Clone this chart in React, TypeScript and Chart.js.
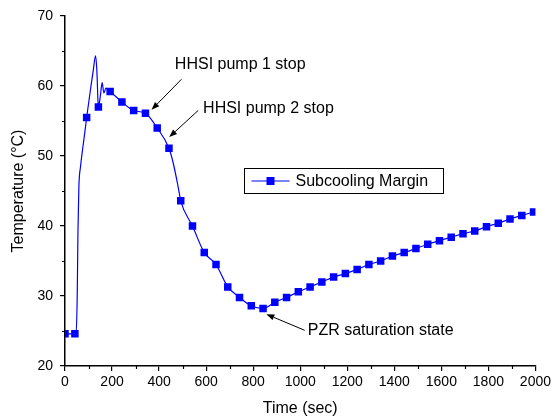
import React, { useEffect, useRef } from "react";
import { Chart, registerables } from "chart.js";

Chart.register(...registerables);

// Marker points (sec, °C)
const MARKER_TIME = [
  0, 42, 92, 142, 192, 242, 292, 342, 392, 442, 492, 542, 592, 642, 692, 742, 792, 842, 892, 942,
  992, 1042, 1092, 1142, 1192, 1242, 1292, 1342, 1392, 1442, 1492, 1542, 1592, 1642, 1692, 1742,
  1792, 1842, 1892, 1942, 1992,
];
const MARKER_TEMP = [
  24.6, 24.6, 55.5, 57.0, 59.2, 57.7, 56.5, 56.1, 54.0, 51.1, 43.6, 40.0, 36.2, 34.5, 31.3, 29.8,
  28.6, 28.2, 29.1, 29.8, 30.6, 31.3, 32.0, 32.7, 33.2, 33.8, 34.5, 35.0, 35.7, 36.2, 36.8, 37.4,
  37.9, 38.4, 38.9, 39.3, 39.9, 40.4, 41.0, 41.5, 42.0,
];
// Extra curve points between markers (sec, °C)
const CURVE_TIME = [47, 52, 55, 59, 66, 75, 84, 110, 120, 130, 136, 140, 150, 158, 165, 174, 183, 460, 481];
const CURVE_TEMP = [24.6, 30, 39, 45.6, 48.5, 51.0, 53.3, 59.9, 62.2, 64.3, 61.8, 58.0, 58.5, 60.5, 59.0, 59.7, 59.4, 49.0, 45.6];

const X_TICKS = [0, 200, 400, 600, 800, 1000, 1200, 1400, 1600, 1800, 2000];
const Y_TICKS = [20, 30, 40, 50, 60, 70];

const SERIES_NAME = "Subcooling Margin";
const X_TITLE = "Time (sec)";
const Y_TITLE = "Temperature (°C)";

// Annotations
const ANNOTATION_TEXT = ["HHSI pump 1 stop", "HHSI pump 2 stop", "PZR saturation state"];
const ANNOTATION_TEXT_X = [467, 587, 1032];
const ANNOTATION_TEXT_Y = [62.4, 56.2, 24.5];
const ARROW_TAIL_X = [495, 566, 1019];
const ARROW_TAIL_Y = [60.96, 56.5, 25.1];
const ARROW_HEAD_X = [368, 443, 856];
const ARROW_HEAD_Y = [56.6, 52.7, 27.4];

const LEGEND_X = 760;
const LEGEND_Y = 48.24;

const BLUE = "#0000ff";
const FONT = "'Liberation Sans', Arial, sans-serif";

export default function App() {
  const ref = useRef<HTMLCanvasElement>(null);

  useEffect(() => {
    const canvas = ref.current;
    if (!canvas) return;

    const curve = [
      ...MARKER_TIME.map((t, i) => ({ x: t, y: MARKER_TEMP[i] })),
      ...CURVE_TIME.map((t, i) => ({ x: t, y: CURVE_TEMP[i] })),
    ].sort((a, b) => a.x - b.x);
    const markers = MARKER_TIME.map((t, i) => ({ x: t, y: MARKER_TEMP[i] }));

    const extras = {
      id: "extras",
      afterDraw(chart: any) {
        const { ctx, scales } = chart;
        const xs = scales.x;
        const ys = scales.y;
        const area = chart.chartArea;
        ctx.save();
        // minor ticks
        ctx.strokeStyle = "#000";
        ctx.lineWidth = 1.2;
        ctx.beginPath();
        for (let i = 0; i < X_TICKS.length - 1; i++) {
          const v = (X_TICKS[i] + X_TICKS[i + 1]) / 2;
          const px = Math.round(xs.getPixelForValue(v)) + 0.5;
          ctx.moveTo(px, area.bottom);
          ctx.lineTo(px, area.bottom + 3);
        }
        for (let i = 0; i < Y_TICKS.length - 1; i++) {
          const v = (Y_TICKS[i] + Y_TICKS[i + 1]) / 2;
          const py = Math.round(ys.getPixelForValue(v)) + 0.5;
          ctx.moveTo(area.left, py);
          ctx.lineTo(area.left - 3, py);
        }
        ctx.stroke();

        // axis titles
        ctx.fillStyle = "#000";
        ctx.font = `16px ${FONT}`;
        ctx.textAlign = "center";
        ctx.textBaseline = "middle";
        ctx.fillText(X_TITLE, (area.left + area.right) / 2, 409);
        ctx.save();
        ctx.translate(19, (area.top + area.bottom) / 2);
        ctx.rotate(-Math.PI / 2);
        ctx.fillText(Y_TITLE, 0, 0);
        ctx.restore();

        // annotations
        ctx.textAlign = "left";
        ctx.textBaseline = "alphabetic";
        for (let i = 0; i < ANNOTATION_TEXT.length; i++) {
          ctx.fillText(
            ANNOTATION_TEXT[i],
            xs.getPixelForValue(ANNOTATION_TEXT_X[i]),
            ys.getPixelForValue(ANNOTATION_TEXT_Y[i])
          );
          const tx = xs.getPixelForValue(ARROW_TAIL_X[i]);
          const ty = ys.getPixelForValue(ARROW_TAIL_Y[i]);
          const hx = xs.getPixelForValue(ARROW_HEAD_X[i]);
          const hy = ys.getPixelForValue(ARROW_HEAD_Y[i]);
          const ang = Math.atan2(hy - ty, hx - tx);
          const L = 8;
          const W = 3;
          const bx = hx - L * Math.cos(ang);
          const by = hy - L * Math.sin(ang);
          ctx.beginPath();
          ctx.lineWidth = 1;
          ctx.strokeStyle = "#000";
          ctx.moveTo(tx, ty);
          ctx.lineTo(bx, by);
          ctx.stroke();
          ctx.beginPath();
          ctx.moveTo(hx, hy);
          ctx.lineTo(bx + W * Math.sin(ang), by - W * Math.cos(ang));
          ctx.lineTo(bx - W * Math.sin(ang), by + W * Math.cos(ang));
          ctx.closePath();
          ctx.fill();
        }

        // legend
        const lx = Math.round(xs.getPixelForValue(LEGEND_X)) + 0.5;
        const ly = Math.round(ys.getPixelForValue(LEGEND_Y)) + 0.5;
        const lw = 199;
        const lh = 25;
        ctx.fillStyle = "#fff";
        ctx.fillRect(lx, ly, lw, lh);
        ctx.strokeStyle = "#000";
        ctx.lineWidth = 1;
        ctx.strokeRect(lx, ly, lw, lh);
        const cy = ly + lh / 2;
        ctx.strokeStyle = BLUE;
        ctx.lineWidth = 1.2;
        ctx.beginPath();
        ctx.moveTo(lx + 7, cy);
        ctx.lineTo(lx + 45, cy);
        ctx.stroke();
        ctx.fillStyle = BLUE;
        ctx.fillRect(lx + 22, cy - 4, 8, 8);
        ctx.fillStyle = "#000";
        ctx.textBaseline = "middle";
        ctx.fillText(SERIES_NAME, lx + 51, cy + 1);
        ctx.restore();
      },
    };

    const chart = new Chart(canvas, {
      type: "scatter",
      data: {
        datasets: [
          {
            label: SERIES_NAME,
            data: curve,
            showLine: true,
            borderColor: BLUE,
            borderWidth: 1.2,
            pointRadius: 0,
            cubicInterpolationMode: "monotone",
          },
          {
            label: SERIES_NAME + " markers",
            data: markers,
            showLine: false,
            pointStyle: "rect",
            pointRadius: 5.3,
            backgroundColor: BLUE,
            borderColor: BLUE,
            borderWidth: 0,
          },
        ],
      },
      options: {
        responsive: false,
        animation: false,
        layout: { padding: { top: 16, right: 18, left: 0, bottom: 0 } },
        plugins: { legend: { display: false }, tooltip: { enabled: false } },
        scales: {
          x: {
            type: "linear",
            min: 0,
            max: 2000,
            afterFit: (s: any) => {
              s.height = 54;
            },
            afterBuildTicks: (s: any) => {
              s.ticks = X_TICKS.map((v) => ({ value: v }));
            },
            ticks: {
              color: "#000",
              font: { family: FONT, size: 14 },
              padding: 3,
              maxRotation: 0,
              autoSkip: false,
              callback: (v: any) => String(v),
            },
            grid: {
              drawOnChartArea: false,
              drawTicks: true,
              tickLength: 5,
              color: "#000",
              lineWidth: 1.2,
            },
            border: { display: true, color: "#000", width: 1.5 },
          },
          y: {
            type: "linear",
            min: 20,
            max: 70,
            afterFit: (s: any) => {
              s.width = 65;
            },
            afterBuildTicks: (s: any) => {
              s.ticks = Y_TICKS.map((v) => ({ value: v }));
            },
            ticks: {
              color: "#000",
              font: { family: FONT, size: 14 },
              padding: 7,
              autoSkip: false,
              callback: (v: any) => String(v),
            },
            grid: {
              drawOnChartArea: false,
              drawTicks: true,
              tickLength: 5,
              color: "#000",
              lineWidth: 1.2,
            },
            border: { display: true, color: "#000", width: 1.5 },
          },
        },
      },
      plugins: [extras],
    });
    return () => chart.destroy();
  }, []);

  return (
    <div style={{ position: "fixed", left: 0, top: 0, width: 554, height: 420, background: "#fff" }}>
      <canvas ref={ref} width={554} height={420} style={{ display: "block" }} />
    </div>
  );
}
